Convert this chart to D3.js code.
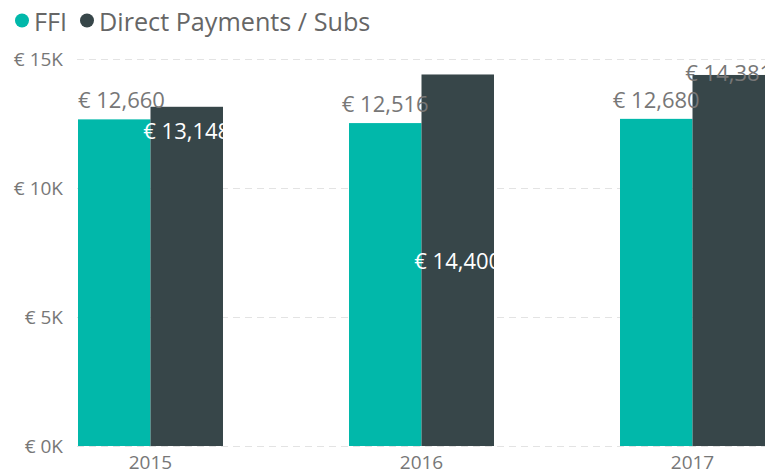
<!DOCTYPE html>
<html>
<head>
<meta charset="utf-8">
<script src="https://cdn.jsdelivr.net/npm/d3@7"></script>
<style>
  html, body { margin: 0; padding: 0; background: #fff; }
  svg { display: block; font-family: "Open Sans", "Noto Sans", sans-serif; }
</style>
</head>
<body>
<svg id="chart" width="765" height="476"></svg>
<script>
const years = ["2015", "2016", "2017"];
const seriesNames = ["FFI", "Direct Payments / Subs"];
const ffiValues = [12660, 12516, 12680];
const directValues = [13148, 14400, 14381];
const yTickValues = [0, 5000, 10000, 15000];
const yTickLabels = ["€ 0K", "€ 5K", "€ 10K", "€ 15K"];

const colors = ["#01B8AA", "#374649"];
const svg = d3.select("#chart");
const W = 765, H = 476;

const x0 = d3.scaleBand().domain(years).range([78, 765]).paddingInner(0.465).paddingOuter(0);
const x1 = d3.scaleBand().domain(seriesNames).range([0, x0.bandwidth()]).padding(0);
const y = d3.scaleLinear().domain([0, 15000]).range([446, 59]);

// gridlines
const grid = svg.append("g");
grid.selectAll("line").data(yTickValues).join("line")
  .attr("x1", 77).attr("x2", W)
  .attr("y1", d => Math.round(y(d)) + 0.5).attr("y2", d => Math.round(y(d)) + 0.5)
  .attr("stroke", "#e3e3e3").attr("stroke-width", 1)
  .attr("stroke-dasharray", "7,5");

// y axis
const yAxis = d3.axisLeft(y).tickValues(yTickValues)
  .tickFormat((d, i) => yTickLabels[i]).tickSize(0).tickPadding(0);
const ya = svg.append("g").attr("transform", "translate(63,0)").call(yAxis);
ya.select(".domain").remove();
ya.selectAll("text").attr("fill", "#777").attr("font-size", 19)
  .attr("font-family", "Open Sans, sans-serif").attr("dy", "0.35em");

// x axis
const xAxis = d3.axisBottom(x0).tickSize(0).tickPadding(0);
const xa = svg.append("g").attr("transform", "translate(0,452)").call(xAxis);
xa.select(".domain").remove();
xa.selectAll("text").attr("fill", "#777").attr("font-size", 19)
  .attr("font-family", "Open Sans, sans-serif").attr("dy", "0.92em");

// bars
const seriesData = [ffiValues, directValues];
const groups = svg.append("g").selectAll("g").data(years).join("g")
  .attr("transform", d => `translate(${x0(d)},0)`);
groups.selectAll("rect").data((d, i) => seriesNames.map((s, k) => ({ s, k, v: seriesData[k][i] })))
  .join("rect")
  .attr("x", d => x1(d.s))
  .attr("width", x1.bandwidth())
  .attr("y", d => y(d.v))
  .attr("height", d => y(0) - y(d.v))
  .attr("fill", d => colors[d.k]);

// data labels
const fmt = v => "€ " + d3.format(",")(v);
const labelsG = svg.append("g").attr("font-size", 22).attr("font-family", "Open Sans, sans-serif");
// FFI labels: above bars, clamped to plot left
years.forEach((yr, i) => {
  const v = ffiValues[i];
  const cx = x0(yr) + x1("FFI") + x1.bandwidth() / 2;
  const t = labelsG.append("text").text(fmt(v))
    .attr("fill", "#777").attr("text-anchor", "middle")
    .attr("x", cx).attr("y", y(v) - 11);
  const w = t.node().getComputedTextLength();
  if (cx - w / 2 < 78) t.attr("text-anchor", "start").attr("x", 78);
});
// Direct labels
const placement = ["insideEnd", "insideCenter", "outsideEnd"];
years.forEach((yr, i) => {
  const v = directValues[i];
  const cx = x0(yr) + x1(seriesNames[1]) + x1.bandwidth() / 2;
  const t = labelsG.append("text").text(fmt(v)).attr("text-anchor", "middle").attr("x", cx);
  if (placement[i] === "insideEnd") t.attr("fill", "#fff").attr("y", y(v) + 32);
  else if (placement[i] === "insideCenter") t.attr("fill", "#fff").attr("y", (y(v) + y(0)) / 2 + 9);
  else t.attr("fill", "#777").attr("y", y(v) + 6);
});

// legend
const lg = svg.append("g").attr("font-size", 25.2).attr("font-family", "Open Sans, sans-serif");
const legendX = [22, 87];
seriesNames.forEach((s, k) => {
  lg.append("circle").attr("cx", legendX[k]).attr("cy", 20.5).attr("r", 7).attr("fill", colors[k]);
  lg.append("text").text(s).attr("x", legendX[k] + 12).attr("y", 31).attr("fill", "#666");
});
</script>
</body>
</html>
